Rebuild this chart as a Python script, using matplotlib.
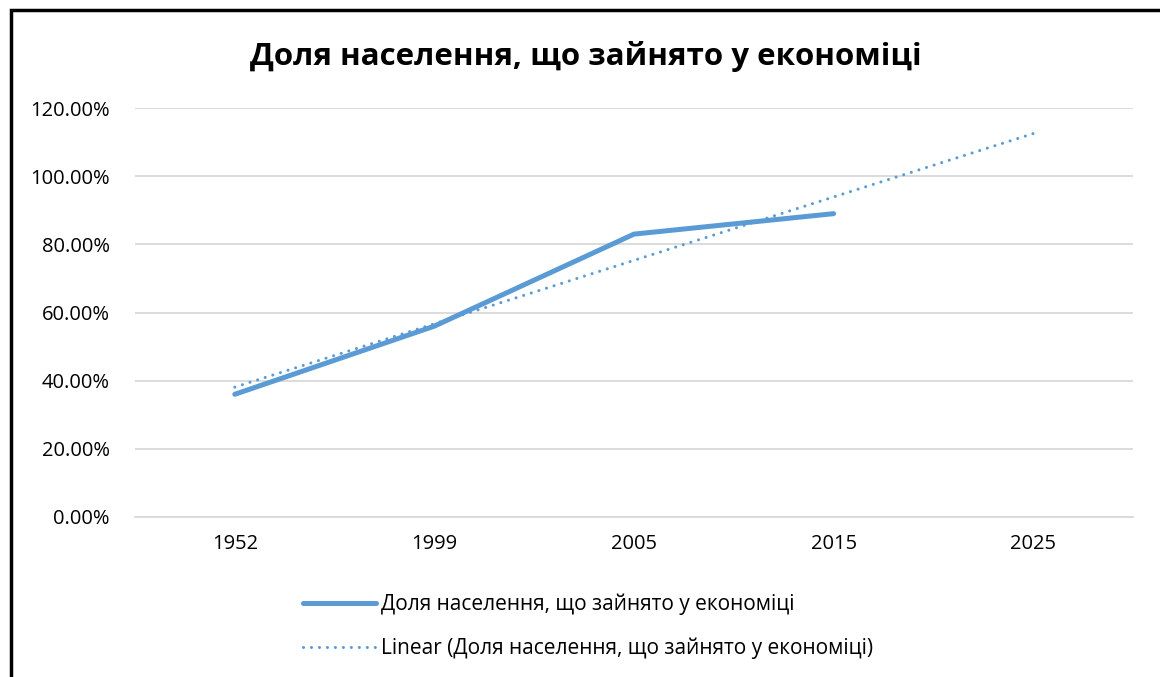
import matplotlib.pyplot as plt
from matplotlib.patches import Rectangle
from matplotlib.ticker import FuncFormatter

plt.rcParams['font.family'] = ['Open Sans', 'DejaVu Sans']

years = ['1952', '1999', '2005', '2015', '2025']
share = [36.0, 56.0, 83.0, 89.0]          # % employed, no value for 2025
trend = [38.1, 56.7, 75.3, 93.9, 112.5]   # linear trend

series_name = 'Доля населення, що зайнято у економіці'
blue = '#5B9BD5'

fig = plt.figure(figsize=(11.6, 6.77), dpi=100)
ax = fig.add_axes([135/1160, 1 - 517/677, 998/1160, 409/677])

x = list(range(len(years)))
ax.plot(x[:len(share)], share, color=blue, lw=3.6, solid_capstyle='round',
        label=series_name)
ax.plot(x, trend, color=blue, lw=2.2, ls=(0, (0.01, 2.6)), dash_capstyle='round',
        label='Linear (' + series_name + ')')

ax.set_xlim(-0.5, 4.5)
ax.set_ylim(0, 120)
ax.set_yticks(range(0, 121, 20))
ax.yaxis.set_major_formatter(FuncFormatter(lambda v, p: f'{v:.2f}%'))
ax.set_xticks(x)
ax.set_xticklabels(years)
ax.grid(axis='y', color='#d9d9d9', lw=1.3)
ax.set_axisbelow(True)
for s in ['top', 'right', 'left']:
    ax.spines[s].set_visible(False)
ax.spines['bottom'].set_color('#d9d9d9')
ax.spines['bottom'].set_linewidth(1.3)
ax.tick_params(axis='both', length=0, labelsize=14.5, colors='#000000')
ax.tick_params(axis='y', pad=18)
ax.tick_params(axis='x', pad=12)

fig.text(0.505, 1 - 56/677, series_name, ha='center', va='center',
         fontsize=22.5, fontweight='bold')

fig.legend(loc='upper left', bbox_to_anchor=(295/1160, 1 - 585/677), frameon=False,
           fontsize=15, handlelength=3.5, handletextpad=0.25, labelspacing=1.1,
           borderaxespad=0)

# outer chart frame (right and bottom edges fall outside the picture)
fig.patches.append(Rectangle((11/1160, -0.1), 1.2, 1 - 10/677 + 0.1,
                             transform=fig.transFigure, fill=False,
                             edgecolor='black', lw=2.5))

fig.savefig('out.png', dpi=100)
